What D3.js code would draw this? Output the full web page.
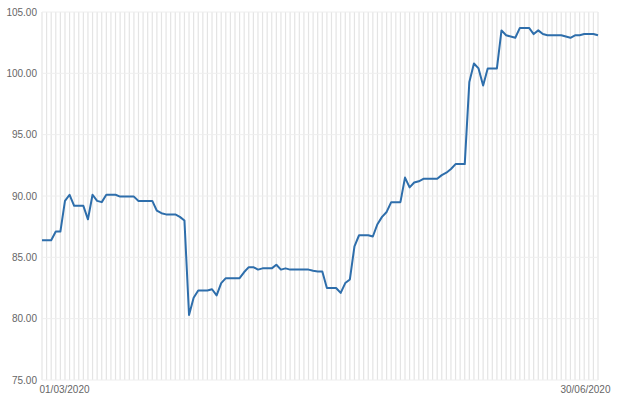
<!DOCTYPE html>
<html><head><meta charset="utf-8">
<script src="https://cdn.jsdelivr.net/npm/d3@7"></script>
<style>
body{margin:0;background:#fff;}
svg text{font-family:"Liberation Sans",Arial,sans-serif;}
</style></head>
<body><svg id="c" width="623" height="409"></svg>
<script>
const startDate = "01/03/2020";
const endDate = "30/06/2020";
const yTicks = [75, 80, 85, 90, 95, 100, 105];
const values = [
86.4,86.4,86.4,87.1,87.1,89.6,90.1,89.2,89.2,89.2,
88.1,90.1,89.6,89.5,90.1,90.1,90.1,89.95,89.95,89.95,
89.95,89.6,89.6,89.6,89.6,88.8,88.6,88.5,88.5,88.5,
88.3,88.0,80.3,81.7,82.3,82.3,82.3,82.4,81.9,82.9,
83.3,83.3,83.3,83.3,83.8,84.2,84.2,84.0,84.1,84.1,
84.1,84.4,84.0,84.1,84.0,84.0,84.0,84.0,84.0,83.9,
83.85,83.85,82.5,82.5,82.5,82.1,82.9,83.2,85.9,86.8,
86.8,86.8,86.7,87.7,88.3,88.7,89.5,89.5,89.5,91.5,
90.7,91.1,91.2,91.4,91.4,91.4,91.4,91.7,91.9,92.2,
92.6,92.6,92.6,99.3,100.8,100.4,99.0,100.4,100.4,100.4,
103.5,103.1,103.0,102.9,103.7,103.7,103.7,103.2,103.5,103.2,
103.1,103.1,103.1,103.1,103.0,102.9,103.1,103.1,103.2,103.2,
103.2,103.1
];

const parse = d3.timeParse("%d/%m/%Y");
const fmt = d3.timeFormat("%d/%m/%Y");
const d0 = parse(startDate), d1 = parse(endDate);
const data = values.map((v,i)=>({date:d3.timeDay.offset(d0,i), value:v}));

const svg = d3.select("#c");
const m = {left:42, right:25, top:12, bottom:29};
const W = 623, H = 409;
const x = d3.scaleTime().domain([d0,d1]).range([m.left, W-m.right]);
const y = d3.scaleLinear().domain([75,105]).range([H-m.bottom, m.top]);

// vertical daily grid
svg.append("g").selectAll("line").data(d3.timeDay.range(d0, d3.timeDay.offset(d1,1)))
  .join("line")
  .attr("x1",d=>x(d)).attr("x2",d=>x(d))
  .attr("y1",y(105)).attr("y2",y(75))
  .attr("stroke","#e4e4e4").attr("stroke-width",1.2);

// horizontal grid
svg.append("g").selectAll("line").data(yTicks).join("line")
  .attr("x1",m.left).attr("x2",W-m.right)
  .attr("y1",d=>y(d)).attr("y2",d=>y(d))
  .attr("stroke","#eeeeee").attr("stroke-width",1);

// y axis
const ya = svg.append("g").attr("transform",`translate(${m.left},0)`)
  .call(d3.axisLeft(y).tickValues(yTicks).tickFormat(d3.format(".2f")).tickSize(0).tickPadding(5));
ya.select(".domain").remove();
ya.attr("font-size",10).attr("font-family",null);
ya.selectAll("text").attr("fill","#666");

// x axis
const xa = svg.append("g").attr("transform",`translate(0,${H-m.bottom})`)
  .call(d3.axisBottom(x).tickValues([d0,d1]).tickFormat(fmt).tickSize(0).tickPadding(6));
xa.select(".domain").remove();
xa.attr("font-size",10).attr("font-family",null);
xa.selectAll("text").attr("fill","#666")
  .attr("text-anchor",d=>(+d===+d0)?"start":"end")
  .attr("dx",d=>(+d===+d0)?-3:12);

// line
svg.append("path").datum(data)
  .attr("fill","none").attr("stroke","#2e6eab").attr("stroke-width",2)
  .attr("stroke-linejoin","round")
  .attr("d", d3.line().x(d=>x(d.date)).y(d=>y(d.value)));
</script></body></html>
